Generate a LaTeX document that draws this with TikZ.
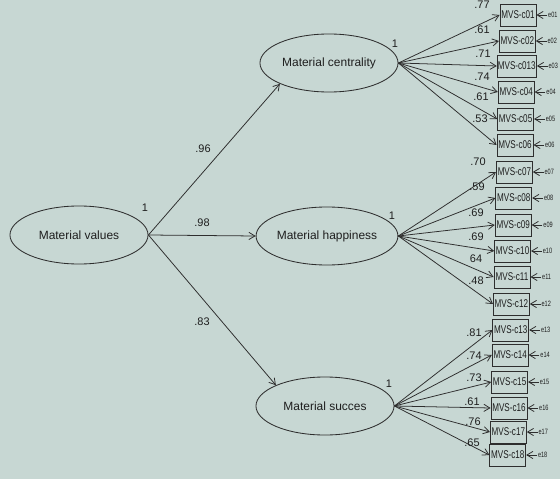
\documentclass[tikz,border=0pt]{standalone}
\usepackage{fontspec}
\setmainfont{Liberation Sans}
\usepackage{graphicx}
\usetikzlibrary{arrows.meta,positioning,shapes.geometric}
\definecolor{semfond}{HTML}{C7D7D3}
\definecolor{semtrait}{HTML}{2E2E2E}
\definecolor{semtexte}{HTML}{1E1E1E}
\newcommand{\etroit}[1]{\scalebox{0.72}[1]{#1}}

\begin{document}
\begin{tikzpicture}[x=0.025cm, y=-0.025cm,
  every node/.style={font=\fontsize{7.8}{9}\selectfont, text=semtexte},
  latente/.style={ellipse, draw=semtrait, line width=0.6pt, minimum width=3.45cm,
    minimum height=1.45cm, inner sep=0pt, font=\fontsize{8.5}{10}\selectfont},
  mesure/.style={rectangle, draw=semtrait, line width=0.6pt, minimum width=0.9cm,
    minimum height=0.55cm, inner sep=0.5pt, font=\fontsize{8}{9}\selectfont},
  fleche/.style={-{Straight Barb[length=1.5mm,width=1.8mm]}, semtrait, line width=0.55pt},
  erreur/.style={font=\fontsize{5.5}{6}\selectfont, inner sep=0.5pt}]
  % Fond de page
  \useasboundingbox (0,0) rectangle (560,479);
  \fill[semfond] (0,0) rectangle (560,479);
  % --- Variables latentes ---
  \node[latente] (mv) at (79,235) {Material values};
  \node[latente] (mc) at (329,63) {Material centrality};
  \node[latente] (mh) at (327,236) {Material happiness};
  \node[latente] (ms) at (325,406) {Material succes};
  % Variances fixees a 1
  \node (u1) at (145,208) {1};
  \node (u2) at (395,44) {1};
  \node (u3) at (392,216) {1};
  \node (u4) at (389,384) {1};
  % --- Facteur de second ordre ---
  \draw[fleche] (mv.east) -- (mc.south west);
  \draw[fleche] (mv.east) -- (mh.west);
  \draw[fleche] (mv.east) -- (ms.north west);
  \node (l1) at (203,149) {.96};
  \node (l2) at (202,223) {.98};
  \node (l3) at (202,322) {.83};
  % --- Indicateurs et erreurs ---
  \foreach \i/\yy/\nom/\ee in {1/15/MVS-c01/e01, 2/41/MVS-c02/e02, 3/66/MVS-c013/e03,
      4/92/MVS-c04/e04, 5/119/MVS-c05/e05, 6/145/MVS-c06/e06,
      7/172/MVS-c07/e07, 8/198/MVS-c08/e08, 9/225/MVS-c09/e09,
      10/251/MVS-c10/e10, 11/277/MVS-c11/e11, 12/304/MVS-c12/e12,
      13/330/MVS-c13/e13, 14/355/MVS-c14/e14, 15/382/MVS-c15/e15,
      16/408/MVS-c16/e16, 17/432/MVS-c17/e17, 18/455/MVS-c18/e18}{
    \node[mesure] (c\i) at ({518-0.6*(\i-1)},\yy) {\etroit{\nom}};
    \node[erreur, right=0.27cm of c\i] (e\i) {\etroit{\ee}};
    \draw[fleche] (e\i) -- (c\i);
  }
  % Saturations
  \foreach \i in {1,...,6} \draw[fleche] (mc.east) -- (c\i.west);
  \foreach \i in {7,...,12} \draw[fleche] (mh.east) -- (c\i.west);
  \foreach \i in {13,...,18} \draw[fleche] (ms.east) -- (c\i.west);
  \foreach \i/\lx/\ly/\val in {1/482/5/.77, 2/482/30/.61, 3/483/54/.71,
      4/482/77/.74, 5/481/97/.61, 6/480/119/.53,
      7/478/162/.70, 8/477/187/.59, 9/476/213/.69,
      10/476/237/.69, 11/476/259/64, 12/476/281/.48,
      13/474/333/.81, 14/474/356/.74, 15/474/378/.73,
      16/472/402/.61, 17/473/422/.76, 18/472/443/.65}
    \node (p\i) at (\lx,\ly) {\val};
\end{tikzpicture}
\end{document}
